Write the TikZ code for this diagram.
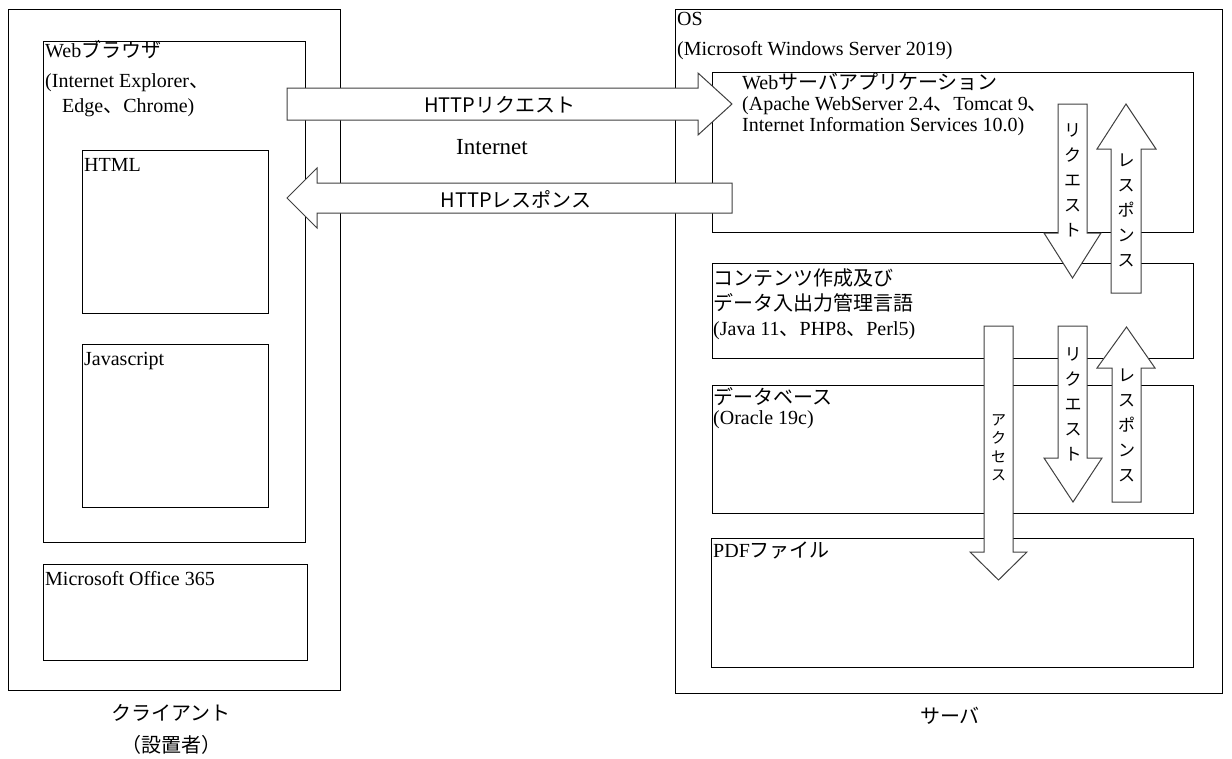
\documentclass[tikz,border=0pt]{standalone}
\usepackage{fontspec}
\setmainfont{Liberation Serif}
\newfontfamily\jp{Noto Sans CJK JP}
\newcommand\ja[1]{{\jp #1}}
\lineskiplimit=-40pt

\tikzset{
  box/.style 2 args={draw, line width=1.3pt, anchor=north west, inner sep=0pt,
    minimum width=#1, minimum height=#2},
  lbl/.style={anchor=base west, inner sep=0pt, align=left},
  ctxt/.style={anchor=base, inner sep=0pt, align=center},
  blk/.style={draw=black!75, fill=white, line width=1pt, line join=miter},
  vtxt/.style={inner sep=0pt, align=center, font=\jp\fontsize{17}{25}\selectfont}
}

\begin{document}
\begin{tikzpicture}[x=1pt, y=-1pt, font=\fontsize{20}{25}\selectfont]
\useasboundingbox (0,0) rectangle (1232,758);

% Client side
\node[box={332pt}{681pt}] (client) at (8,9) {};
\node[box={262pt}{501pt}] (browser) at (43,41) {};
\node[box={186pt}{163pt}] (html) at (82,150) {};
\node[box={186pt}{163pt}] (js) at (82,344) {};
\node[box={264pt}{96pt}] (office) at (43,564) {};

% Server side
\node[box={547pt}{684pt}] (server) at (675,9) {};
\node[box={481pt}{160pt}] (websrv) at (712,72) {};
\node[box={481pt}{95pt}] (content) at (712,263) {};
\node[box={481pt}{128pt}] (db) at (712,385) {};
\node[box={482pt}{129pt}] (pdf) at (711,538) {};

% Block arrows between client and server
\draw[blk] (287,88) -- (698,88) -- (698,73) -- (732,104) -- (698,135) -- (698,120) -- (287,120) -- cycle;
\draw[blk] (732,183) -- (317,183) -- (317,168) -- (287,198) -- (317,228) -- (317,213) -- (732,213) -- cycle;

% Block arrows inside the server
\draw[blk] (1058,104) -- (1087,104) -- (1087,233) -- (1101,233) -- (1072.5,278) -- (1044,233) -- (1058,233) -- cycle;
\draw[blk] (1111,293) -- (1141,293) -- (1141,149) -- (1156,149) -- (1126,104) -- (1097,149) -- (1111,149) -- cycle;
\draw[blk] (984,326) -- (1013,326) -- (1013,552) -- (1027,552) -- (998.5,580) -- (970,552) -- (984,552) -- cycle;
\draw[blk] (1058,326) -- (1087,326) -- (1087,458) -- (1102,458) -- (1073,502) -- (1044,458) -- (1058,458) -- cycle;
\draw[blk] (1112,502) -- (1141,502) -- (1141,368) -- (1155,368) -- (1126.5,327) -- (1097,368) -- (1112,368) -- cycle;

% Box labels (base = last line)
\node[lbl] (browsert) at (45,112) {Web\ja{ブラウザ}\\[5pt](Internet Explorer\ja{、}\\\hspace*{17pt}Edge\ja{、}Chrome)};
\node[lbl] (htmlt) at (84,171) {HTML};
\node[lbl] (jst) at (84,365) {Javascript};
\node[lbl] (officet) at (45,585) {Microsoft Office 365};
\node[lbl] (ost) at (677,55) {OS\\[5pt](Microsoft Windows Server 2019)};
\node[lbl, font=\fontsize{20}{21}\selectfont] (websrvt) at (742,131)
  {Web\ja{サーバアプリケーション}\\(Apache WebServer 2.4\ja{、}Tomcat 9\ja{、}\\Internet Information Services 10.0)};
\node[lbl] (contentt) at (713,335) {\ja{コンテンツ作成及び}\\\ja{データ入出力管理言語}\\(Java 11\ja{、}PHP8\ja{、}Perl5)};
\node[lbl, font=\fontsize{20}{20}\selectfont] (dbt) at (713,424) {\ja{データベース}\\(Oracle 19c)};
\node[lbl] (pdft) at (713,557) {PDF\ja{ファイル}};

% Arrow labels
\node[ctxt, font=\jp\fontsize{20}{25}\selectfont] (req) at (500,112) {HTTPリクエスト};
\node[ctxt, font=\jp\fontsize{20}{25}\selectfont] (res) at (516,207) {HTTPレスポンス};
\node[ctxt, font=\fontsize{23}{25}\selectfont] (inet) at (492,154) {Internet};
\node[vtxt] (req1) at (1072.5,180) {リ\\ク\\エ\\ス\\ト};
\node[vtxt] (res1) at (1126,210) {レ\\ス\\ポ\\ン\\ス};
\node[vtxt] (req2) at (1073,404) {リ\\ク\\エ\\ス\\ト};
\node[vtxt] (res2) at (1126.5,425) {レ\\ス\\ポ\\ン\\ス};
\node[vtxt, font=\jp\fontsize{15}{18.5}\selectfont] (acc) at (998.5,448) {ア\\ク\\セ\\ス};

% Captions
\node[ctxt, font=\jp\fontsize{20}{32}\selectfont] (clientt) at (171,752) {クライアント\\（設置者）};
\node[ctxt, font=\jp\fontsize{20}{25}\selectfont] (servert) at (950,723) {サーバ};
\end{tikzpicture}
\end{document}
